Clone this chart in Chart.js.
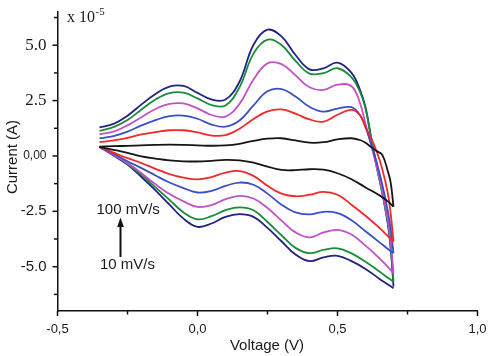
<!DOCTYPE html>
<html><head><meta charset="utf-8">
<script src="https://cdn.jsdelivr.net/npm/chart.js@4.4.1/dist/chart.umd.min.js"></script>
<style>html,body{margin:0;padding:0;background:#fff;} #wrap{width:500px;height:356px;}</style>
</head><body><div id="wrap"><canvas id="c" width="500" height="356"></canvas></div>
<script>
// Voltage grids (V)
const vFwd = [-0.35,-0.30,-0.25,-0.20,-0.15,-0.10,-0.05,0.00,0.05,0.10,0.15,0.20,0.25,0.30,0.35,0.40,0.45,0.50,0.55,0.58,0.60,0.62,0.64,0.66,0.68,0.69,0.70];
const vRev = [0.70,0.68,0.65,0.60,0.55,0.50,0.45,0.40,0.35,0.30,0.25,0.20,0.15,0.10,0.05,0.00,-0.05,-0.10,-0.15,-0.20,-0.25,-0.30,-0.35];

// Current (x 10^-5 A), forward (anodic) scans
const blackFwd   = [0.42,0.44,0.46,0.48,0.50,0.51,0.50,0.48,0.46,0.48,0.55,0.68,0.78,0.80,0.70,0.60,0.62,0.75,0.80,0.72,0.60,0.40,0.22,0.05,-0.70,-1.20,-2.29];
const redFwd     = [0.62,0.70,0.82,0.97,1.08,1.16,1.16,1.06,0.92,0.94,1.23,1.67,2.01,2.10,1.91,1.65,1.55,1.86,2.08,1.85,1.30,0.80,0.20,-0.60,-1.70,-2.60,-3.87];
const blueFwd    = [0.80,0.90,1.10,1.38,1.62,1.80,1.82,1.68,1.42,1.32,1.60,2.28,2.92,3.02,2.68,2.22,2.00,2.14,2.20,1.85,1.30,0.55,-0.30,-1.30,-2.50,-3.30,-4.39];
const magentaFwd = [0.98,1.10,1.38,1.75,2.12,2.35,2.37,2.15,1.85,1.78,2.35,3.45,4.18,4.15,3.64,3.10,2.98,3.22,3.15,2.40,1.45,0.50,-0.50,-1.60,-2.90,-3.90,-5.29];
const greenFwd   = [1.13,1.30,1.62,2.10,2.55,2.84,2.86,2.60,2.30,2.28,3.10,4.62,5.25,5.01,4.29,3.72,3.74,3.96,3.55,2.90,2.15,0.80,-0.50,-1.70,-3.00,-4.10,-5.67];
const navyFwd    = [1.29,1.45,1.82,2.33,2.80,3.13,3.16,2.85,2.55,2.55,3.35,5.02,5.70,5.40,4.56,3.91,3.96,4.21,3.75,3.00,2.20,0.85,-0.45,-1.65,-3.10,-4.20,-5.90];

// Reverse (cathodic) scans
const blackRev   = [-2.29,-2.05,-1.78,-1.42,-1.05,-0.78,-0.62,-0.60,-0.64,-0.63,-0.48,-0.30,-0.20,-0.18,-0.22,-0.25,-0.24,-0.20,-0.12,-0.02,0.14,0.28,0.41];
const redRev     = [-3.87,-3.62,-3.25,-2.70,-2.20,-1.75,-1.62,-1.75,-1.82,-1.70,-1.35,-0.90,-0.68,-0.75,-0.95,-1.06,-0.98,-0.82,-0.58,-0.32,-0.10,0.15,0.41];
const blueRev    = [-4.39,-4.20,-3.90,-3.40,-2.90,-2.58,-2.52,-2.64,-2.55,-2.20,-1.70,-1.30,-1.20,-1.35,-1.58,-1.65,-1.45,-1.20,-0.88,-0.55,-0.24,0.10,0.41];
const magentaRev = [-5.29,-5.02,-4.62,-4.05,-3.55,-3.34,-3.45,-3.68,-3.45,-2.92,-2.35,-1.92,-1.80,-1.95,-2.22,-2.30,-2.05,-1.72,-1.28,-0.78,-0.32,0.06,0.41];
const greenRev   = [-5.67,-5.50,-5.22,-4.78,-4.40,-4.17,-4.24,-4.39,-4.15,-3.58,-2.98,-2.45,-2.32,-2.45,-2.72,-2.86,-2.55,-1.98,-1.42,-0.85,-0.36,0.05,0.41];
const navyRev    = [-5.97,-5.80,-5.55,-5.10,-4.75,-4.51,-4.58,-4.75,-4.45,-3.85,-3.25,-2.75,-2.63,-2.75,-3.05,-3.20,-2.83,-2.20,-1.55,-0.95,-0.39,0.02,0.41];

// Ticks
const xTickValues = [-0.5, 0, 0.5, 1.0];
const xTickLabels = ["-0,5", "0,0", "0,5", "1,0"];
const xMinorValues = [-0.25, 0.25, 0.75];
const yTickValues = [-5, -2.5, 0, 2.5, 5];
const yTickLabels = ["-5.0", "-2.5", "0,00", "2.5", "5.0"];
const yMinorValues = [-6.25, -3.75, -1.25, 1.25, 3.75, 6.25];

const series = [
  {fwd: blackFwd, rev: blackRev, color: '#151515'},
  {fwd: redFwd, rev: redRev, color: '#f42828'},
  {fwd: blueFwd, rev: blueRev, color: '#3a4fc6'},
  {fwd: magentaFwd, rev: magentaRev, color: '#c052c4'},
  {fwd: greenFwd, rev: greenRev, color: '#1c8a3c'},
  {fwd: navyFwd, rev: navyRev, color: '#222280'}
];

const datasets = [];
series.forEach(s => {
  datasets.push({data: vFwd.map((v,i)=>({x:v, y:s.fwd[i]})), borderColor: s.color});
  datasets.push({data: vRev.map((v,i)=>({x:v, y:s.rev[i]})), borderColor: s.color});
});
datasets.forEach(d => { d.borderWidth = 1.8; d.pointRadius = 0; d.tension = 0.4; d.fill = false; });

const SANS = "'Liberation Sans', Arial, sans-serif";
const SERIF = "'Liberation Serif', 'Times New Roman', serif";
const TXT = '#1a1a1a';

const decor = {
  id: 'decor',
  afterDraw(chart) {
    const ctx = chart.ctx;
    const xs = chart.scales.x, ys = chart.scales.y;
    const area = chart.chartArea;
    ctx.save();
    ctx.strokeStyle = '#111';
    ctx.lineWidth = 1.5;
    xTickValues.concat(xMinorValues).forEach(v => {
      const p = xs.getPixelForValue(v);
      const len = xTickValues.includes(v) ? 5 : 3.5;
      ctx.beginPath(); ctx.moveTo(p, area.bottom); ctx.lineTo(p, area.bottom + len); ctx.stroke();
    });
    yTickValues.concat(yMinorValues).forEach(v => {
      const p = ys.getPixelForValue(v);
      const len = yTickValues.includes(v) ? 5 : 3.5;
      ctx.beginPath(); ctx.moveTo(area.left, p); ctx.lineTo(area.left - len, p); ctx.stroke();
    });
    ctx.fillStyle = TXT;
    ctx.font = '16px ' + SERIF;
    ctx.textBaseline = 'alphabetic';
    ctx.textAlign = 'left';
    ctx.fillText('x 10', 67, 21.5);
    const w = ctx.measureText('x 10').width;
    ctx.font = '11px ' + SERIF;
    ctx.fillText('-5', 67 + w + 0.5, 15);
    ctx.font = '15px ' + SANS;
    ctx.textAlign = 'center';
    ctx.fillText('Voltage (V)', 267, 350);
    ctx.save();
    ctx.translate(16.5, 157);
    ctx.rotate(-Math.PI/2);
    ctx.fillText('Current (A)', 0, 0);
    ctx.restore();
    ctx.font = '15px ' + SANS;
    ctx.textAlign = 'left';
    ctx.fillText('100 mV/s', 96.5, 213.5);
    ctx.fillText('10 mV/s', 100, 268.5);
    ctx.strokeStyle = '#111';
    ctx.lineWidth = 2;
    ctx.beginPath(); ctx.moveTo(120.5, 257); ctx.lineTo(120.5, 224); ctx.stroke();
    ctx.fillStyle = '#111';
    ctx.beginPath(); ctx.moveTo(120.5, 217.5); ctx.lineTo(117.2, 227); ctx.lineTo(123.8, 227); ctx.closePath(); ctx.fill();
    ctx.restore();
  }
};

new Chart(document.getElementById('c'), {
  type: 'line',
  data: {datasets},
  options: {
    responsive: false,
    animation: false,
    devicePixelRatio: 1,
    layout: {padding: {left: 0, right: 22.5, top: 12, bottom: 0}},
    plugins: {legend: {display: false}, tooltip: {enabled: false}},
    scales: {
      x: {
        type: 'linear', min: -0.5, max: 1.0,
        afterBuildTicks: s => { s.ticks = xTickValues.map(v => ({value: v})); },
        afterFit: s => { s.height = 45; s.paddingLeft = 0; s.paddingRight = 0; },
        grid: {display: false},
        border: {display: true, color: '#111', width: 1.5},
        ticks: {
          autoSkip: false, maxRotation: 0, padding: 3, color: TXT,
          font: {family: SANS, size: 13},
          callback: v => { const i = xTickValues.indexOf(v); return i >= 0 ? xTickLabels[i] : ''; }
        }
      },
      y: {
        type: 'linear', min: -7, max: 6.5,
        afterBuildTicks: s => { s.ticks = yTickValues.map(v => ({value: v})); },
        afterFit: s => { s.width = 57.5; s.paddingTop = 0; s.paddingBottom = 0; },
        grid: {display: false},
        border: {display: true, color: '#111', width: 1.5},
        ticks: {
          autoSkip: false, padding: 3, color: TXT,
          font: ctx => {
            const v = ctx.tick ? ctx.tick.value : 0;
            if (v > 0) return {family: SERIF, size: 17};
            if (v === 0) return {family: SANS, size: 12};
            return {family: SANS, size: 15};
          },
          callback: v => { const i = yTickValues.indexOf(v); return i >= 0 ? yTickLabels[i] : ''; }
        }
      }
    }
  },
  plugins: [decor]
});
</script></body></html>
